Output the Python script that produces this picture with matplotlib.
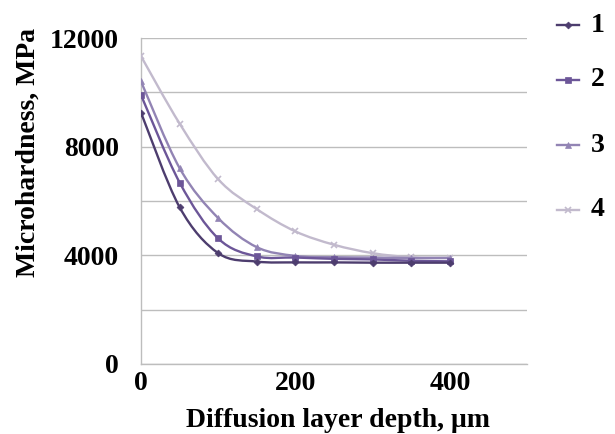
import numpy as np
import matplotlib
matplotlib.use("Agg")
import matplotlib.pyplot as plt
from matplotlib.path import Path
from matplotlib.patches import PathPatch
from matplotlib.lines import Line2D

depth = [0, 50, 100, 150, 200, 250, 300, 350, 400]
s1 = [9250, 5770, 4080, 3770, 3740, 3740, 3730, 3730, 3730]
s2 = [9900, 6680, 4620, 3960, 3920, 3870, 3850, 3800, 3780]
s3 = [10400, 7210, 5370, 4300, 3980, 3930, 3920, 3900, 3900]
s4 = [11330, 8850, 6800, 5700, 4880, 4390, 4080, 3930, 3920]
labels = ["1", "2", "3", "4"]
yticks = [0, 4000, 8000, 12000]
xticks = [0, 200, 400]

colors = ["#4d3d6e", "#6c5698", "#9284b4", "#c2bacd"]
markers = ["D", "s", "^", "x"]
msizes = [3.5, 5, 5, 5]

plt.rcParams['font.family'] = ['Liberation Serif', 'DejaVu Serif']
fig = plt.figure(figsize=(6.15, 4.34), dpi=100)
ax = fig.add_axes([0.2293, 0.1613, 0.857 - 0.2293, 0.9124 - 0.1613])


def smooth_path(x, y):
    x = np.asarray(x, float)
    y = np.asarray(y, float)
    n = len(x)
    verts = [(x[0], y[0])]
    codes = [Path.MOVETO]
    for i in range(n - 1):
        p0 = np.array([x[max(i - 1, 0)], y[max(i - 1, 0)]])
        p1 = np.array([x[i], y[i]])
        p2 = np.array([x[i + 1], y[i + 1]])
        p3 = np.array([x[min(i + 2, n - 1)], y[min(i + 2, n - 1)]])
        c1 = p1 + (p2 - p0) / 6.0
        c2 = p2 - (p3 - p1) / 6.0
        verts += [tuple(c1), tuple(c2), tuple(p2)]
        codes += [Path.CURVE4] * 3
    return Path(verts, codes)


series = [s1, s2, s3, s4]
for k in range(3, -1, -1):
    s = series[k]
    patch = PathPatch(smooth_path(depth, s), facecolor="none", edgecolor=colors[k],
                      lw=1.7, zorder=3 + (3 - k))
    ax.add_patch(patch)
    ax.plot(depth, s, linestyle="none", marker=markers[k], ms=msizes[k],
            color=colors[k], mec=colors[k], mew=1.2 if k == 3 else 0.5, zorder=4 + (3 - k))

ax.set_xlim(0, 500)
ax.set_ylim(0, 12000)
ax.set_yticks(yticks)
ax.set_yticks(np.arange(0, 12001, 2000), minor=True)
ax.set_xticks(xticks)
ax.grid(True, axis="y", which="both", color="#bdbdbd", lw=1.0)
ax.set_axisbelow(True)
for sp in ["top", "right"]:
    ax.spines[sp].set_visible(False)
for sp in ["left", "bottom"]:
    ax.spines[sp].set_color("#bdbdbd")
    ax.spines[sp].set_linewidth(1.0)
ax.tick_params(axis="both", which="both", length=0, labelsize=20)
ax.tick_params(axis="y", pad=16)
ax.tick_params(axis="x", pad=5)
for t in ax.get_xticklabels() + ax.get_yticklabels():
    t.set_fontweight("bold")

ax.set_xlabel("Diffusion layer depth, μm", fontsize=20, fontweight="bold")
ax.set_ylabel("Microhardness, MPa", fontsize=20, fontweight="bold")
ax.xaxis.set_label_coords(0.51, -0.135)
ax.yaxis.set_label_coords(-0.26, 0.65)

# legend drawn in figure pixel coordinates
W, H = 615, 434
leg_y = [25, 80, 145, 210]
for k in range(4):
    yy = 1 - leg_y[k] / H
    fig.add_artist(Line2D([557 / W, 579 / W], [yy, yy], color=colors[k], lw=1.7,
                          transform=fig.transFigure))
    fig.add_artist(Line2D([568 / W], [yy], marker=markers[k], ms=msizes[k],
                          color=colors[k], mew=1.2 if k == 3 else 0.5,
                          transform=fig.transFigure))
    fig.text(591 / W, yy, labels[k], fontsize=20, fontweight="bold",
             va="center", ha="left")

fig.savefig("out.png", dpi=100)
